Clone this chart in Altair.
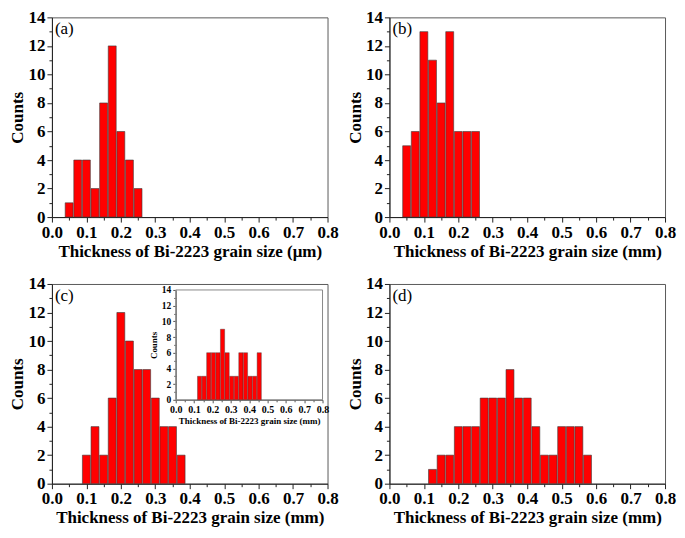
import altair as alt
import pandas as pd

# ---------------- data ----------------
centers_a = [0.05, 0.075, 0.1, 0.125, 0.15, 0.175, 0.2, 0.225, 0.25]
counts_a = [1, 4, 4, 2, 8, 12, 6, 4, 2]

centers_b = [0.05, 0.075, 0.1, 0.125, 0.15, 0.175, 0.2, 0.225, 0.25]
counts_b = [5, 6, 13, 11, 8, 13, 6, 6, 6]

centers_c = [0.1, 0.125, 0.15, 0.175, 0.2, 0.225, 0.25, 0.275, 0.3, 0.325, 0.35, 0.375]
counts_c = [2, 4, 2, 6, 12, 10, 8, 8, 6, 4, 4, 2]

centers_c_inset = [0.13, 0.155, 0.18, 0.205, 0.23, 0.255, 0.28, 0.305, 0.33, 0.355,
                   0.38, 0.405, 0.43, 0.455]
counts_c_inset = [3, 3, 6, 6, 6, 9, 6, 3, 3, 6, 6, 3, 3, 6]

centers_d = [0.125, 0.15, 0.175, 0.2, 0.225, 0.25, 0.275, 0.3, 0.325, 0.35,
             0.375, 0.4, 0.425, 0.45, 0.475, 0.5, 0.525, 0.55, 0.575]
counts_d = [1, 2, 2, 4, 4, 4, 6, 6, 6, 8, 6, 6, 4, 2, 2, 4, 4, 4, 2]

x_ticks = [0.0, 0.05, 0.1, 0.15, 0.2, 0.25, 0.3, 0.35, 0.4, 0.45, 0.5, 0.55,
           0.6, 0.65, 0.7, 0.75, 0.8]
y_ticks = [0, 1, 2, 3, 4, 5, 6, 7, 8, 9, 10, 11, 12, 13, 14]

title_um = "Thickness of Bi-2223 grain size (\u03bcm)"
title_mm = "Thickness of Bi-2223 grain size (mm)"
panel_labels = ["(a)", "(b)", "(c)", "(d)"]

# ---------------- styling ----------------
FONT = "Liberation Serif"
W, H = 276, 200
HALF = 0.0115  # half bar width (bin width 0.025 minus a small gap)
INK = "#222222"
MAJ_X = "round(datum.value*100) % 10 == 0"
MAJ_Y = "datum.value % 2 == 0"


def xaxis(title, lsize, tsize, major=5, minor=3, offset=None, tpad=3, lpad=2, color=INK):
    kw = dict(
        title=title, orient="bottom", values=x_ticks,
        labelExpr=f"{MAJ_X} ? format(datum.value, '.1f') : ''",
        tickSize={"condition": {"test": f"!({MAJ_X})", "value": minor}, "value": major},
        labelFont=FONT, titleFont=FONT, labelFontWeight="bold", titleFontWeight="bold",
        labelFontSize=lsize, titleFontSize=tsize, labelPadding=lpad, titlePadding=tpad,
        domainColor=color, tickColor=color, labelColor="black", titleColor="black",
        grid=False, labelFlush=False, labelOverlap=False, tickWidth=1, domainWidth=1,
    )
    if offset is not None:
        kw["offset"] = offset
    return alt.Axis(**kw)


def yaxis(lsize, tsize, major=5, minor=3, offset=None, tpad=1, lpad=2, color=INK):
    kw = dict(
        title="Counts", orient="left", values=y_ticks,
        labelExpr=f"{MAJ_Y} ? format(datum.value, 'd') : ''",
        tickSize={"condition": {"test": f"!({MAJ_Y})", "value": minor}, "value": major},
        labelFont=FONT, titleFont=FONT, labelFontWeight="bold", titleFontWeight="bold",
        labelFontSize=lsize, titleFontSize=tsize, labelPadding=lpad, titlePadding=tpad,
        domainColor=color, tickColor=color, labelColor="black", titleColor="black",
        grid=False, labelFlush=False, labelOverlap=False, tickWidth=1, domainWidth=1,
    )
    if offset is not None:
        kw["offset"] = offset
    return alt.Axis(**kw)


def hist_df(centers, counts):
    df = pd.DataFrame({"c": centers, "n": counts})
    df["lo"] = df["c"] - HALF
    df["hi"] = df["c"] + HALF
    return df


def bars(df, xscale, yscale, xax, yax, sw=0.6):
    return alt.Chart(df).mark_bar(
        color="#ff0000", stroke="#3a3a3a", strokeWidth=sw
    ).encode(
        x=alt.X("lo:Q", scale=xscale, axis=xax),
        x2="hi:Q",
        y=alt.Y("n:Q", scale=yscale, axis=yax),
        y2=alt.Y2(datum=0),
    )


def letter(txt):
    return alt.Chart(pd.DataFrame({"t": [txt]})).mark_text(
        font=FONT, fontSize=17, align="left", baseline="top", color="black"
    ).encode(text="t:N", x=alt.value(3), y=alt.value(4))


def main_panel(centers, counts, title, lab):
    xs = alt.Scale(domain=[0, 0.8], nice=False, zero=False)
    ys = alt.Scale(domain=[0, 14], nice=False)
    b = bars(hist_df(centers, counts), xs, ys, xaxis(title, 17, 17), yaxis(17, 17))
    return alt.layer(b, letter(lab)).properties(width=W, height=H)


pa = main_panel(centers_a, counts_a, title_um, panel_labels[0])
pb = main_panel(centers_b, counts_b, title_mm, panel_labels[1])
pd_ = main_panel(centers_d, counts_d, title_mm, panel_labels[3])

# panel c with inset
xs_c = alt.Scale(domain=[0, 0.8], nice=False, zero=False)
ys_c = alt.Scale(domain=[0, 14], nice=False)
c_main = bars(hist_df(centers_c, counts_c), xs_c, ys_c, xaxis(title_mm, 17, 17), yaxis(17, 17))

IX0, IX1, IY0, IY1 = 124, 271, 6, 116
xs_i = alt.Scale(domain=[0, 0.8], nice=False, zero=False, range=[IX0, IX1])
ys_i = alt.Scale(domain=[0, 14], nice=False, range=[IY1, IY0])
xax_i = xaxis(title_mm, 10, 9, major=3, minor=2, offset=IY1 - H, tpad=2, lpad=2, color="#555555")
yax_i = yaxis(9.5, 9, major=3, minor=2, offset=-IX0, tpad=3, lpad=2, color="#555555")
inset_frame = alt.Chart(pd.DataFrame({"k": [0]})).mark_rect(
    fill="white", fillOpacity=0, stroke="#8a8a8a", strokeWidth=1
).encode(
    x=alt.X(datum=0, scale=xs_i, axis=xax_i),
    x2=alt.X2(datum=0.8),
    y=alt.Y(datum=0, scale=ys_i, axis=yax_i),
    y2=alt.Y2(datum=14),
)
inset_bars = bars(hist_df(centers_c_inset, counts_c_inset), xs_i, ys_i, xax_i, yax_i, sw=0.4)
inset = alt.layer(inset_frame, inset_bars)

pc = alt.layer(c_main, inset, letter(panel_labels[2])).resolve_scale(
    x="independent", y="independent"
).resolve_axis(x="independent", y="independent").properties(width=W, height=H)

chart = alt.concat(
    pa, pb, pc, pd_, columns=2, spacing={"row": 67, "column": 62}, bounds="flush"
).properties(
    padding={"left": 0, "top": -1, "right": 0, "bottom": 0},
    background="white",
).configure_view(
    stroke="#5a5a5a", strokeWidth=1
)

chart.save("out.html", embed_options={"renderer": "svg", "actions": False})
